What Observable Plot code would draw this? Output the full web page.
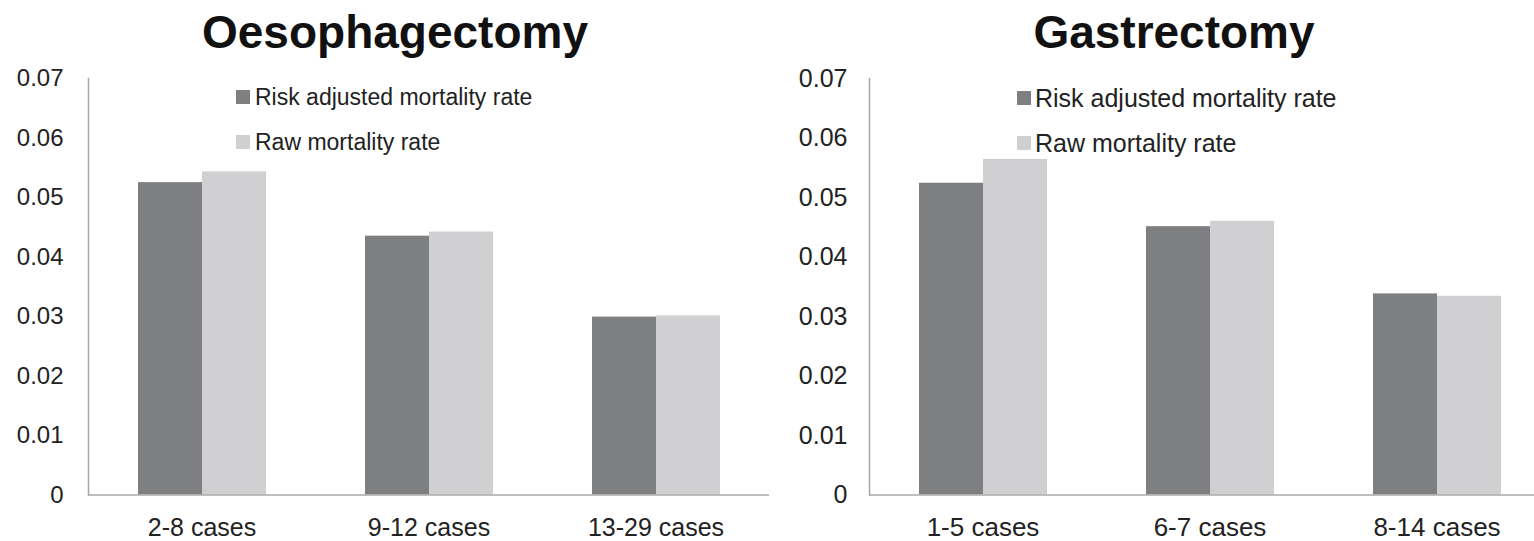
<!DOCTYPE html>
<html>
<head>
<meta charset="utf-8">
<script src="https://cdn.jsdelivr.net/npm/d3@7"></script>
<script src="https://cdn.jsdelivr.net/npm/@observablehq/plot@0.6"></script>
<style>
  html, body { margin: 0; padding: 0; background: #fff; overflow: hidden; }
  #root { position: relative; width: 1534px; height: 541px; overflow: hidden; font-family: "Liberation Sans", Arial, sans-serif; }
  .panel { position: absolute; top: 0; }
  .title { position: absolute; top: 9px; left: 0; right: 0; text-align: center; font-weight: bold; font-size: 46px; line-height: 46px; color: #111; white-space: nowrap; }
  .plot { position: absolute; top: 58px; left: 0; }
  .legend { position: absolute; color: #222; white-space: nowrap; }
  .legend .row { position: absolute; left: 0; display: flex; align-items: center; }
  .legend .sw { width: 14px; height: 14px; display: inline-block; }
</style>
</head>
<body>
<div id="root"></div>
<script>
// ---- data ----
const seriesNames = ["Risk adjusted mortality rate", "Raw mortality rate"];
const seriesColors = ["#7e7f81", "#d0d0d2"];
const yTicks = [0, 0.01, 0.02, 0.03, 0.04, 0.05, 0.06, 0.07];

const oesoCategories = ["2-8 cases", "9-12 cases", "13-29 cases"];
const oesoRiskAdjusted = [0.0525, 0.0435, 0.0299];
const oesoRaw = [0.0543, 0.0442, 0.0301];

const gastroCategories = ["1-5 cases", "6-7 cases", "8-14 cases"];
const gastroRiskAdjusted = [0.0524, 0.0451, 0.0338];
const gastroRaw = [0.0564, 0.0460, 0.0334];

const panelTitles = ["Oesophagectomy", "Gastrectomy"];

function rows(categories, a, b) {
  const out = [];
  categories.forEach((c, i) => {
    out.push({group: c, series: seriesNames[0], value: a[i]});
    out.push({group: c, series: seriesNames[1], value: b[i]});
  });
  return out;
}

function makePanel(cfg) {
  const root = document.getElementById("root");
  const panel = document.createElement("div");
  panel.className = "panel";
  panel.style.left = cfg.left + "px";
  panel.style.width = cfg.width + "px";
  panel.style.height = "541px";

  const title = document.createElement("div");
  title.className = "title";
  title.textContent = cfg.title;
  panel.appendChild(title);

  const chart = Plot.plot({
    width: cfg.width,
    height: 483,
    marginLeft: cfg.marginLeft,
    marginRight: cfg.width - cfg.marginLeft - 681,
    marginTop: 20,
    marginBottom: 46.5,
    style: {fontFamily: "Liberation Sans, Arial, sans-serif", fontSize: cfg.tickFont + "px", color: "#222", background: "transparent", overflow: "visible"},
    fx: {domain: cfg.categories, padding: 0, axis: null, label: null},
    x: {domain: seriesNames, paddingInner: 0, paddingOuter: 0.76, axis: null},
    y: {domain: [0, 0.07], axis: null},
    color: {domain: seriesNames, range: seriesColors},
    marks: [
      Plot.barY(cfg.data, {fx: "group", x: "series", y: "value", fill: "series"}),
      Plot.ruleY([0], {stroke: "#a8a8a8", strokeWidth: 1.5}),
      Plot.axisY({ticks: yTicks, tickFormat: d => d === 0 ? "0" : d.toFixed(2), tickSize: 0, tickPadding: cfg.tickPad, fill: "#222", label: null, fontSize: cfg.tickFont}),
      Plot.frame({anchor: "left", facetAnchor: "left", stroke: "#a8a8a8", strokeWidth: 1.5}),
      Plot.axisFx({anchor: "bottom", tickSize: 0, tickPadding: 23, label: null, fill: "#222", fontSize: cfg.xFont})
    ]
  });
  chart.classList.add("plot");
  panel.appendChild(chart);

  const legend = document.createElement("div");
  legend.className = "legend";
  legend.style.left = cfg.legendLeft + "px";
  legend.style.top = "0px";
  seriesNames.forEach((s, i) => {
    const row = document.createElement("div");
    row.className = "row";
    row.style.top = (cfg.legendTop + i * 45) + "px";
    row.style.fontSize = cfg.legendFont + "px";
    row.style.lineHeight = "24px";
    row.style.height = "24px";
    const sw = document.createElement("span");
    sw.className = "sw";
    sw.style.background = seriesColors[i];
    sw.style.marginRight = cfg.legendGap + "px";
    row.appendChild(sw);
    const t = document.createElement("span");
    t.textContent = s;
    row.appendChild(t);
    legend.appendChild(row);
  });
  panel.appendChild(legend);
  root.appendChild(panel);
}

makePanel({
  title: panelTitles[0], left: 0, width: 790, marginLeft: 88,
  categories: oesoCategories, data: rows(oesoCategories, oesoRiskAdjusted, oesoRaw),
  tickFont: 24, xFont: 25, tickPad: 25, legendLeft: 236, legendTop: 85, legendFont: 23, legendGap: 5
});
makePanel({
  title: panelTitles[1], left: 790, width: 768, marginLeft: 79,
  categories: gastroCategories, data: rows(gastroCategories, gastroRiskAdjusted, gastroRaw),
  tickFont: 25, xFont: 26, tickPad: 22, legendLeft: 227, legendTop: 86, legendFont: 25, legendGap: 4
});
</script>
</body>
</html>
